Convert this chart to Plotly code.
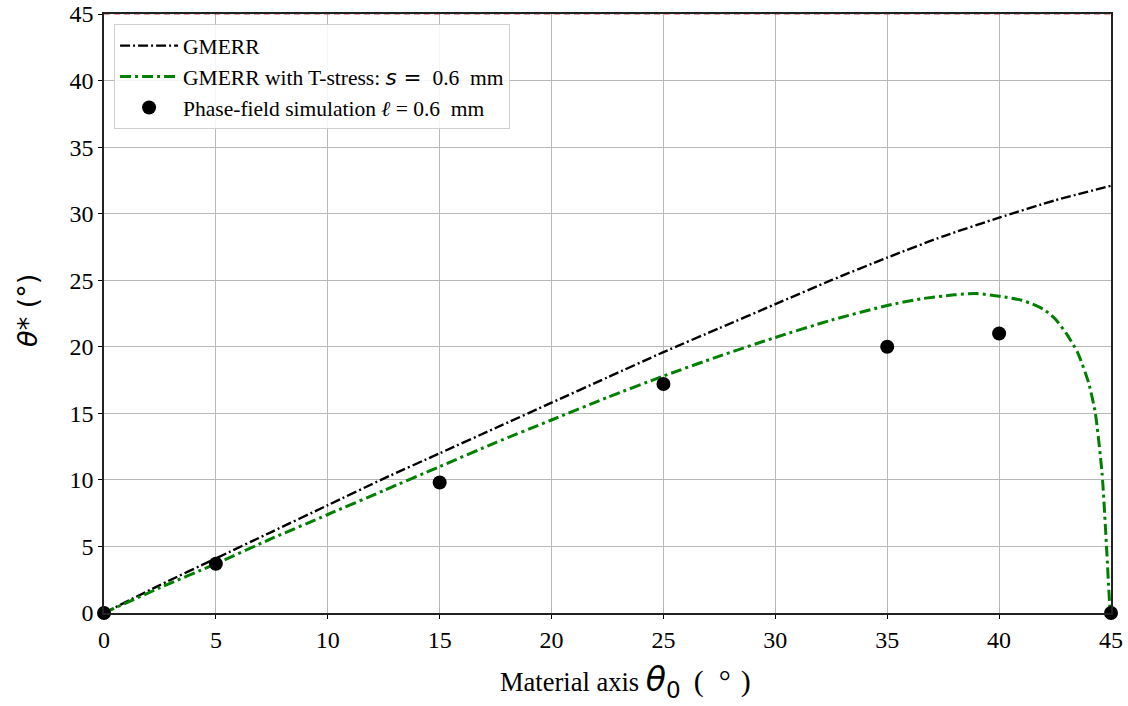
import plotly.graph_objects as go

# GMERR curve
gmerr_x = [0, 2.5, 5, 7.5, 10, 12.5, 15, 17.5, 20, 22.5, 25, 27.5, 30, 32.5, 35, 37.5, 40, 42.5, 45]
gmerr_y = [0, 2.1, 4.1, 6.1, 8.1, 10.1, 12.0, 13.9, 15.8, 17.7, 19.6, 21.4, 23.2, 25.0, 26.7, 28.3, 29.7, 31.0, 32.1]

# GMERR with T-stress
tstress_x = [0, 2.5, 5, 7.5, 10, 12.5, 15, 17.5, 20, 22.5, 25, 27.5, 30, 32.5, 35, 36.5, 38, 39, 40, 41,
             41.5, 42.0, 42.5, 43.0, 43.5, 44.0, 44.3, 44.6, 44.8, 44.95, 45]
tstress_y = [0, 1.9, 3.7, 5.6, 7.4, 9.2, 11.0, 12.8, 14.5, 16.2, 17.8, 19.3, 20.7, 22.0, 23.1, 23.6, 23.9, 24.0, 23.8, 23.5,
             23.2, 22.8, 22.1, 21.0, 19.6, 17.3, 15.0, 10.5, 5.0, 0.5, 0]

# Phase-field simulation points
pf_x = [0, 5, 15, 25, 35, 40, 45]
pf_y = [0, 3.7, 9.8, 17.2, 20.0, 21.0, 0]

x_ticks = [0, 5, 10, 15, 20, 25, 30, 35, 40, 45]
y_ticks = [0, 5, 10, 15, 20, 25, 30, 35, 40, 45]
upper_limit = 45

serif = "Liberation Serif, Times New Roman, serif"
sans = "DejaVu Sans"

fig = go.Figure()
fig.add_trace(go.Scatter(
    x=gmerr_x, y=gmerr_y, mode="lines", name="GMERR",
    line=dict(color="black", width=2.4, dash="10px,3px,2px,3px", shape="spline", smoothing=0.6)))
fig.add_trace(go.Scatter(
    x=tstress_x, y=tstress_y, mode="lines",
    name=f"GMERR with T-stress: <span style='font-family:{sans}'><i>s</i> =</span>  0.6  mm",
    line=dict(color="green", width=3, dash="11px,4px,3px,4px", shape="spline", smoothing=0.6)))
fig.add_trace(go.Scatter(
    x=pf_x, y=pf_y, mode="markers", name="Phase-field simulation <i>ℓ</i> = 0.6  mm",
    marker=dict(color="black", size=14), cliponaxis=False))

fig.add_shape(type="line", xref="paper", yref="y", x0=0, x1=1, y0=upper_limit, y1=upper_limit,
              line=dict(color="rgba(214,80,80,0.75)", width=1.5, dash="6px,4px"))

axis_common = dict(
    showgrid=True, gridcolor="#b8b8b8", gridwidth=1,
    showline=True, linecolor="#222222", linewidth=1.5, mirror=True,
    ticks="outside", ticklen=4, tickcolor="black", tickwidth=1,
    tickfont=dict(family=serif, size=24, color="black"),
    zeroline=False, automargin=False,
)

fig.update_xaxes(range=[0, 45], tickvals=x_ticks, ticktext=[str(v) for v in x_ticks], **axis_common)
fig.update_yaxes(range=[0, 45], tickvals=y_ticks, ticktext=[str(v) for v in y_ticks], **axis_common)

fig.add_annotation(
    text=(f"Material axis <span style='font-family:{sans};font-size:33px'><i>θ</i><sub>0</sub></span>"
          "  <span style='font-size:30px'>(\u2002°\u2004)</span>"),
    xref="paper", yref="paper", x=0.518, y=-0.115, xanchor="center", yanchor="middle",
    showarrow=False, font=dict(family=serif, size=26.5, color="black"))
fig.add_annotation(
    text="<i>θ</i>* (°)", textangle=-90,
    xref="paper", yref="paper", x=-0.0755, y=0.506, xanchor="center", yanchor="middle",
    showarrow=False, font=dict(family=sans, size=27, color="black"))

fig.update_layout(
    width=1128, height=706,
    margin=dict(l=104, r=17, t=14, b=93, autoexpand=False),
    plot_bgcolor="white", paper_bgcolor="white",
    font=dict(family=serif, color="black"),
    showlegend=True,
    legend=dict(x=0.01, y=0.983, xanchor="left", yanchor="top",
                bgcolor="rgba(255,255,255,0.85)", bordercolor="#d0d0d0", borderwidth=1,
                font=dict(family=serif, size=21.5, color="black"),
                itemwidth=58),
)

# remove the browser's default 8px page margin so the figure sits at the page origin
fig.write_html("out.html", config={"displayModeBar": False},
               post_script="document.body.style.margin='0';document.body.style.overflow='hidden';")
